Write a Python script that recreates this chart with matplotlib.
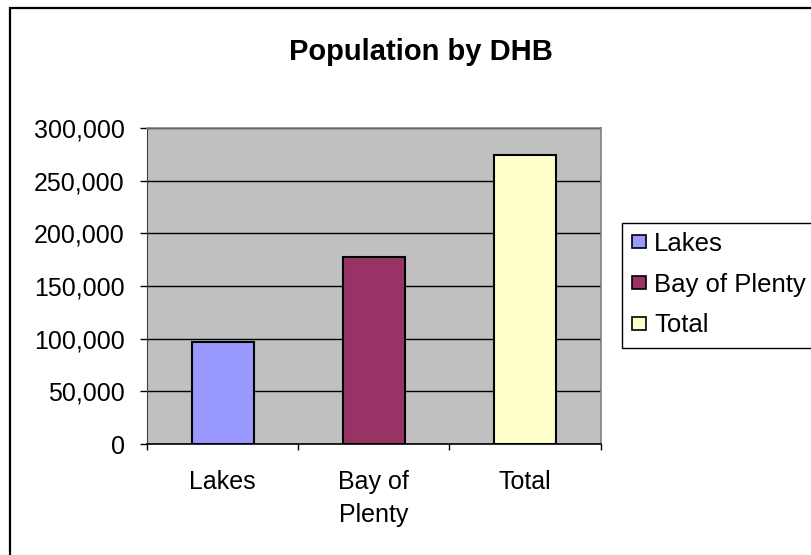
import matplotlib
matplotlib.use("Agg")
import matplotlib.pyplot as plt
from matplotlib.patches import Rectangle, Patch
from matplotlib.ticker import FuncFormatter, FixedLocator
import numpy as np

plt.rcParams['font.family'] = ['Liberation Sans', 'DejaVu Sans']

categories = ["Lakes", "Bay of\nPlenty", "Total"]
legend_labels = ["Lakes", "Bay of Plenty", "Total"]
population = [97000, 178000, 274000]
colors = ["#9999FF", "#993366", "#FFFFCC"]
y_ticks = [0, 50000, 100000, 150000, 200000, 250000, 300000]

W, H = 812, 555
fig = plt.figure(figsize=(W / 100, H / 100), dpi=100)
fig.patch.set_facecolor("white")

# chart border
fig.patches.append(Rectangle((10 / W, -0.05), 1.2, 1 - 8 / H + 0.05,
                             transform=fig.transFigure, fill=False,
                             edgecolor="black", linewidth=1.6, clip_on=False))

ax = fig.add_axes([147 / W, 111 / H, (600.7 - 147) / W, 316 / H])
ax.set_facecolor("#C0C0C0")

x = np.arange(len(categories))
ax.bar(x, population, width=0.41, color=colors, edgecolor="black",
       linewidth=1.5, zorder=3)

ax.set_xlim(-0.5, len(categories) - 0.5)
ax.set_ylim(0, 300000)
ax.set_yticks(y_ticks)
ax.yaxis.set_major_formatter(FuncFormatter(lambda v, p: f"{int(v):,}"))
ax.grid(axis="y", color="black", linewidth=1.0, zorder=1)
ax.set_axisbelow(True)

ax.set_xticks(x)
ax.set_xticklabels(categories, fontsize=18, linespacing=1.45)
ax.xaxis.set_minor_locator(FixedLocator(np.arange(-0.5, len(categories), 1.0)))
ax.tick_params(axis="x", which="major", length=0, pad=19)
ax.tick_params(axis="x", which="minor", length=4, width=1, direction="out")
ax.tick_params(axis="y", length=5, width=1, direction="out", pad=11, labelsize=18)

for side in ["top", "right"]:
    ax.spines[side].set_color("#808080")
    ax.spines[side].set_linewidth(1.2)
ax.spines["left"].set_color("#404040")
ax.spines["bottom"].set_color("black")
ax.spines["bottom"].set_linewidth(1.2)

fig.text(421 / W, 1 - 52 / H, "Population by DHB", ha="center", va="center",
         fontsize=21, fontweight="bold")

# legend box (runs off the right edge of the chart)
fig.patches.append(Rectangle((622 / W, 1 - 348 / H), 0.3, 125 / H,
                             transform=fig.transFigure, facecolor="white",
                             edgecolor="black", linewidth=1.0, clip_on=False))
handles = [Patch(facecolor=c, edgecolor="black", linewidth=1.2) for c in colors]
leg = fig.legend(handles, legend_labels, loc="upper left",
                 bbox_to_anchor=(629 / W, 1 - 229 / H), fontsize=18.5,
                 frameon=False,
                 handlelength=0.58, handleheight=0.42, handletextpad=0.3,
                 labelspacing=0.66, borderpad=0.1, borderaxespad=0)

fig.savefig("out.png", dpi=100)
